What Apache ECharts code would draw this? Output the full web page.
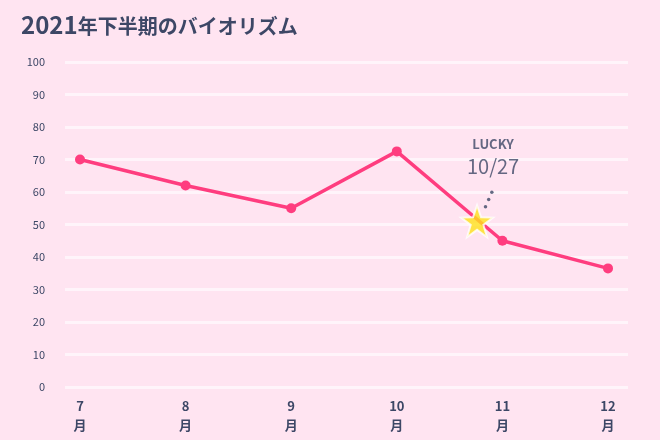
<!DOCTYPE html>
<html><head><meta charset="utf-8">
<script src="https://cdn.jsdelivr.net/npm/echarts@6/dist/echarts.min.js"></script>
<style>html,body{margin:0;background:#ffe4f1}#c{width:660px;height:440px}</style>
</head><body><div id="c"></div>
<script>
const months = [7, 8, 9, 10, 11, 12];
const values = [70, 62, 55, 72.5, 45, 36.5];
const luckyX = 10.76, luckyY = 51, luckyLabel = '10/27';
const yTicks = [0,10,20,30,40,50,60,70,80,90,100];
const font = '"Noto Sans CJK JP","Noto Sans",sans-serif';
const dark = '#3d4766';
const c = echarts.init(document.getElementById('c'));
c.setOption({
  backgroundColor: '#ffe4f1',
  title: { text: '{a|2021}{b|年下半期のバイオリズム}', left: 16, top: 8,
    textStyle: { rich: {
      a: { fontSize: 24, fontWeight: 'bold', color: dark, fontFamily: font },
      b: { fontSize: 20, fontWeight: 'bold', color: dark, fontFamily: font, padding:[3,0,0,0] } } } },
  grid: [
    { left: 65, right: 32, top: 62, bottom: 53 },
    { left: 80, right: 52, top: 62, bottom: 53 }
  ],
  xAxis: [
    { gridIndex: 0, type: 'value', show: false, min: 0, max: 1 },
    { gridIndex: 1, type: 'value', min: 7, max: 12, interval: 1,
      axisLine: { show: false }, axisTick: { show: false }, splitLine: { show: false },
      axisLabel: { formatter: v => v + '\n月', color: dark, fontSize: 13, fontWeight: 'bold',
        fontFamily: font, lineHeight: 19, margin: 10 } }
  ],
  yAxis: [
    { gridIndex: 0, type: 'value', min: 0, max: 100, interval: 10,
      axisLine: { show: false }, axisTick: { show: false },
      axisLabel: { color: dark, fontSize: 11, fontFamily: font, margin: 20 },
      splitLine: { lineStyle: { color: '#fff4fa', width: 3 } } },
    { gridIndex: 1, type: 'value', min: 0, max: 100, show: false }
  ],
  series: [
    { type: 'line', xAxisIndex: 1, yAxisIndex: 1, data: months.map((m, i) => [m, values[i]]),
      symbol: 'circle', symbolSize: 10, z: 3,
      lineStyle: { color: '#ff3d7f', width: 3.5 }, itemStyle: { color: '#ff3d7f' } },
    { type: 'scatter', xAxisIndex: 1, yAxisIndex: 1, data: [[luckyX, luckyY]], z: 5,
      symbol: 'path://M50,2 L62,36 L98,37 L69,58 L80,93 L50,72 L20,93 L31,58 L2,37 L38,36 Z',
      symbolSize: 32, itemStyle: { color: '#ffe11a', borderColor: '#ffffff', borderWidth: 2 },
      label: { show: true, position: 'top', offset: [16, -20], formatter: '{l|LUCKY}\n{d|' + luckyLabel + '}',
        rich: { l: { fontSize: 13, fontWeight: 'bold', color: dark, fontFamily: font, lineHeight: 18 },
                d: { fontSize: 20, color: dark, fontFamily: font, lineHeight: 26 } } } },
    { type: 'scatter', xAxisIndex: 1, yAxisIndex: 1, symbolSize: 3.5, itemStyle: { color: dark }, z: 4,
      data: [[luckyX + 0.08, luckyY + 4.5], [luckyX + 0.11, luckyY + 6.7], [luckyX + 0.14, luckyY + 8.9]] }
  ]
});
</script></body></html>
